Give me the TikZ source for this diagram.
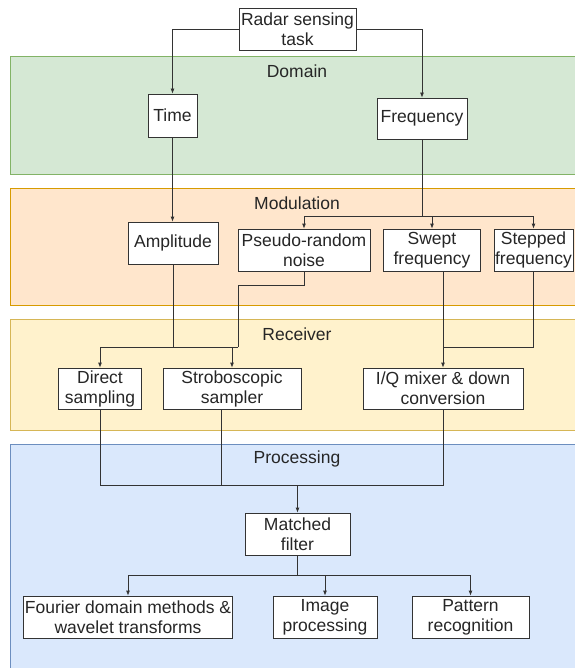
\documentclass[tikz,border=0pt]{standalone}
\usepackage{fontspec}
\setmainfont{Liberation Sans}
\usetikzlibrary{positioning,arrows.meta,calc}

\definecolor{domfill}{HTML}{D5E8D4}
\definecolor{domline}{HTML}{82B366}
\definecolor{modfill}{HTML}{FFE6CC}
\definecolor{modline}{HTML}{D79B00}
\definecolor{recfill}{HTML}{FFF2CC}
\definecolor{recline}{HTML}{D6B656}
\definecolor{profill}{HTML}{DAE8FC}
\definecolor{proline}{HTML}{6C8EBF}

\begin{document}
\begin{tikzpicture}[
    x=1pt, y=-1pt,
    >={Latex[length=5pt,width=4pt]},
    block/.style={rectangle, draw=black!80, fill=white, line width=0.8pt, inner sep=1pt,
        align=center, text=black!85, font=\fontsize{17.5}{20}\selectfont},
    title/.style={text=black!85, font=\fontsize{17.5}{20}\selectfont},
    layer/.style={line width=0.8pt},
    link/.style={draw=black!80, line width=0.8pt}
]
\useasboundingbox (0,0) rectangle (574,668);

% layers
\filldraw[layer, fill=domfill, draw=domline] (10,56) rectangle (590,174);
\filldraw[layer, fill=modfill, draw=modline] (10,188) rectangle (590,305);
\filldraw[layer, fill=recfill, draw=recline] (10,319) rectangle (590,430);
\filldraw[layer, fill=profill, draw=proline] (10,444) rectangle (590,690);

\node[title] (domlbl) at (297,71) {Domain};
\node[title] (modlbl) at (297,203) {Modulation};
\node[title] (reclbl) at (297,334) {Receiver};
\node[title] (prolbl) at (297,459) {Processing};

% boxes
\node[block, minimum width=117pt, minimum height=42pt] (radar) at (297.5,29) {Radar sensing\\task};
\node[block, minimum width=49pt, minimum height=43pt] (time) at (172.5,115.5) {Time};
\node[block, minimum width=90pt, minimum height=41pt] (freq) at (422,118.5) {Frequency};

\node[block, minimum width=90pt, minimum height=42pt] (amp) at (173,243) {Amplitude};
\node[block, minimum width=132pt, minimum height=42pt] (pseudo) at (304,250) {Pseudo-random\\noise};
\node[block, minimum width=97pt, minimum height=42pt] (swept) at (432,250) {Swept\\frequency};
\node[block, minimum width=79pt, minimum height=42pt] (stepped) at (533.5,250) {Stepped\\frequency};

\node[block, minimum width=83pt, minimum height=41pt] (direct) at (100,388.5) {Direct\\sampling};
\node[block, minimum width=138pt, minimum height=41pt] (strobo) at (232,388.5) {Stroboscopic\\sampler};
\node[block, minimum width=160pt, minimum height=41pt] (iq) at (443,388.5) {I/Q mixer \& down\\conversion};

\node[block, minimum width=105pt, minimum height=42pt] (matched) at (297.5,534) {Matched\\filter};
\node[block, minimum width=208pt, minimum height=42pt] (fourier) at (128,617) {Fourier domain methods \&\\wavelet transforms};
\node[block, minimum width=104pt, minimum height=42pt] (image) at (325,617) {Image\\processing};
\node[block, minimum width=117pt, minimum height=42pt] (pattern) at (470.5,617) {Pattern\\recognition};

% task -> domain
\draw[link,->] (radar.west) -| (time.north);
\draw[link,->] (radar.east) -| (freq.north);

% domain -> modulation
\draw[link,->] (time.south) -- (time.south |- amp.north);
\coordinate (fsplit) at (freq.south |- 0,216);
\draw[link] (freq.south) -- (fsplit);
\draw[link,->] (fsplit) -| (pseudo.north);
\draw[link,->] (fsplit) -| (stepped.north);
\draw[link,->] (swept.north |- fsplit) -- (swept.north);

% modulation -> receiver
\coordinate (pbend) at (238,285);
\coordinate (rsplit) at (238,347);
\draw[link] (pseudo.south) |- (pbend) -- (rsplit);
\draw[link,->] (rsplit) -| (direct.north);
\draw[link,->] (strobo.north |- rsplit) -- (strobo.north);
\draw[link] (amp.south) -- (amp.south |- rsplit);
\draw[link,->] (iq.north |- swept.south) -- (iq.north);
\draw[link] (stepped.south) |- (iq.north |- rsplit);

% receiver -> processing
\coordinate (psplit) at (matched.north |- 0,485);
\draw[link] (direct.south) |- (iq.south |- psplit) -- (iq.south);
\draw[link] (strobo.south -| 221,0) -- (221,485);
\draw[link,->] (psplit) -- (matched.north);
\coordinate (msplit) at (matched.south |- 0,575);
\draw[link] (matched.south) -- (msplit);
\draw[link,->] (msplit) -| (fourier.north);
\draw[link,->] (msplit) -| (pattern.north);
\draw[link,->] (image.north |- msplit) -- (image.north);
\end{tikzpicture}
\end{document}
